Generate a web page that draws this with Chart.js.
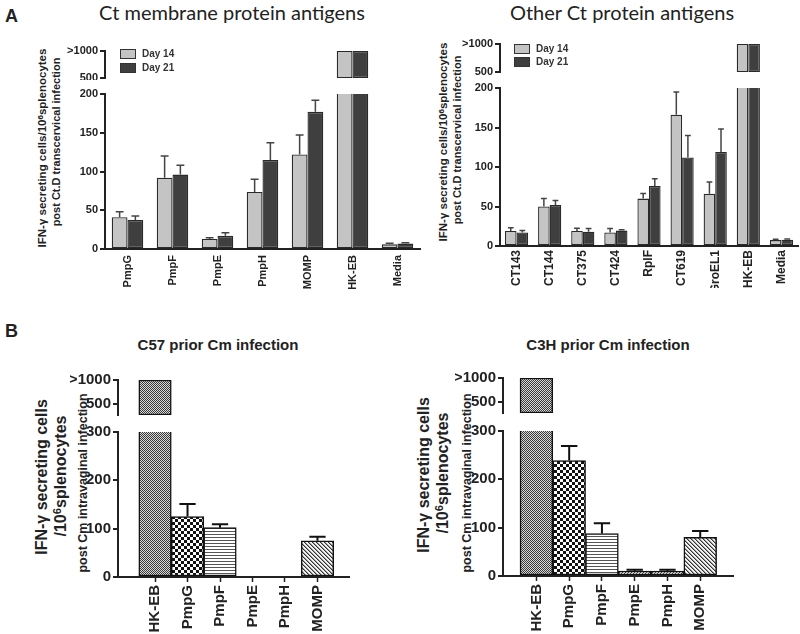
<!DOCTYPE html>
<html><head><meta charset="utf-8">
<script src="https://cdn.jsdelivr.net/npm/chart.js@4.4.1/dist/chart.umd.min.js"></script>
<style>
html,body{margin:0;padding:0;background:#fff}
body{width:800px;height:634px;position:relative;overflow:hidden;font-family:'Liberation Sans',Arial,sans-serif;color:#222}
canvas{position:absolute}
.t{position:absolute;white-space:nowrap;line-height:1}
.c{transform:translateX(-50%)}
.v{position:absolute;white-space:nowrap;font-weight:bold;line-height:1;transform:translate(-50%,-50%) rotate(-90deg);color:#222}
sup{font-size:0.7em;line-height:0;vertical-align:0.45em}
.lg{position:absolute;font-weight:bold;font-size:10px;color:#333;line-height:1;white-space:nowrap}
.sw{position:absolute;box-sizing:border-box;width:16px;height:10px;border:1px solid #333}
</style></head><body>
<div class="t" style="left:5px;top:7px;font-size:18px;font-weight:bold">A</div>
<div class="t c" style="left:232px;top:2px;font-family:Lato;font-size:20px">Ct membrane protein antigens</div>
<div class="t c" style="left:622px;top:2px;font-family:Lato;font-size:20px">Other Ct protein antigens</div>
<div class="t" style="left:5px;top:322px;font-size:18px;font-weight:bold">B</div>
<div class="t c" style="left:218px;top:337px;font-size:15px;font-weight:bold">C57 prior Cm infection</div>
<div class="t c" style="left:608px;top:337px;font-size:15px;font-weight:bold">C3H prior Cm infection</div>

<div class="v" style="left:43px;top:148px;font-size:11.5px">IFN-γ secreting cells/10<sup>6</sup>splenocytes</div>
<div class="v" style="left:56px;top:142px;font-size:11px">post Ct.D transcervical infection</div>
<div class="v" style="left:444px;top:142px;font-size:11.5px">IFN-γ secreting cells/10<sup>6</sup>splenocytes</div>
<div class="v" style="left:457px;top:140px;font-size:11px">post Ct.D transcervical infection</div>

<div class="v" style="left:42px;top:477px;font-size:16px">IFN-γ secreting cells</div>
<div class="v" style="left:61px;top:476px;font-size:16px">/10<sup>6</sup>splenocytes</div>
<div class="v" style="left:83px;top:483px;font-size:12.5px">post Cm intravaginal infection</div>
<div class="v" style="left:424px;top:475px;font-size:16px">IFN-γ secreting cells</div>
<div class="v" style="left:443px;top:473px;font-size:16px">/10<sup>6</sup>splenocytes</div>
<div class="v" style="left:467px;top:483px;font-size:12.5px">post Cm intravaginal infection</div>

<script>
// ---------------- DATA ----------------
const seriesNames = ['Day 14', 'Day 21'];
const OVER = 1000;               // bars drawn as ">1000"

const catsA1 = ['PmpG', 'PmpF', 'PmpE', 'PmpH', 'MOMP', 'HK-EB', 'Media'];
const day14A1 = [41, 92, 13, 73.5, 122, 1000, 6];
const day14A1Err = [7, 28, 1.5, 16.5, 25, 0, 1.5];
const day21A1 = [37.5, 96, 17, 115, 177, 1000, 7];
const day21A1Err = [5, 12, 4, 22, 15, 0, 1];

const catsA2 = ['CT143', 'CT144', 'CT375', 'CT424', 'RplF', 'CT619', 'GroEL1', 'HK-EB', 'Media'];
const day14A2 = [19, 50, 19, 17, 60, 166, 66, 1000, 7.5];
const day14A2Err = [4, 10, 3.5, 5, 6.5, 29, 15, 0, 1];
const day21A2 = [17, 52, 18, 19.5, 76, 112, 119, 1000, 8];
const day21A2Err = [2.5, 5.5, 4, 1, 9, 28, 29, 0, 1];

const catsB = ['HK-EB', 'PmpG', 'PmpF', 'PmpE', 'PmpH', 'MOMP'];
const c57Vals = [1000, 125, 102, 0, 0, 75];
const c57Err = [0, 26, 7, 0, 0, 8.5];
const c3hVals = [1000, 239, 88, 10, 10, 80];
const c3hErr = [0, 30, 21, 3, 3, 13];

const ticksA = [0, 50, 100, 150, 200];
const ticksB = [0, 100, 200, 300];
const breakTicks = [500, 1000];
const breakTickLabels = ['500', '>1000'];

// ---------------- STYLE ----------------
const FONT = "Liberation Sans, Arial, sans-serif";
const LIGHT = '#c4c4c4', DARK = '#3f3f3f', EDGE = '#2a2a2a', AX = '#222';

function tile(w, h, draw) {
  const c = document.createElement('canvas'); c.width = w; c.height = h;
  const g = c.getContext('2d'); draw(g);
  return g.createPattern(c, 'repeat');
}
const px = (g, col, pts) => { g.fillStyle = col; pts.forEach(p => g.fillRect(p[0], p[1], 1, 1)); };
const patHK = tile(2, 2, g => { g.fillStyle = '#d8d8d8'; g.fillRect(0,0,2,2); px(g, '#3a3a3a', [[0,0],[1,1]]); });
const patChk = tile(6, 6, g => { g.fillStyle = '#fff'; g.fillRect(0,0,6,6); g.fillStyle = '#111'; g.fillRect(0,0,3,3); g.fillRect(3,3,3,3); });
const patHor = tile(4, 3, g => { g.fillStyle = '#fff'; g.fillRect(0,0,4,3); g.fillStyle = '#555'; g.fillRect(0,0,4,1); });
const patDiagS = tile(3, 3, g => { g.fillStyle = '#eee'; g.fillRect(0,0,3,3); px(g, '#444', [[2,0],[1,1],[0,2]]); });
const patDiag = tile(4, 4, g => { g.fillStyle = '#f2f2f2'; g.fillRect(0,0,4,4); px(g, '#333', [[0,0],[1,1],[2,2],[3,3]]); px(g, '#999', [[1,0],[2,1],[3,2],[0,3]]); });
const patternsB = [patHK, patChk, patHor, patDiagS, patDiagS, patDiag];

// ---------------- PLUGINS ----------------
const errPlugin = {
  id: 'err',
  afterDatasetsDraw(chart, args, opts) {
    const ctx = chart.ctx, ys = chart.scales.y;
    chart.data.datasets.forEach((ds, di) => {
      if (!ds.errors) return;
      const meta = chart.getDatasetMeta(di);
      meta.data.forEach((bar, i) => {
        const e = ds.errors[i], v = ds.vals[i];
        if (!e || v >= OVER) return;
        const yTop = ys.getPixelForValue(v + e);
        const cap = bar.width * 0.25;
        ctx.save();
        ctx.strokeStyle = opts.color; ctx.lineWidth = opts.width;
        ctx.beginPath();
        ctx.moveTo(bar.x, bar.y); ctx.lineTo(bar.x, yTop);
        ctx.moveTo(bar.x - cap, yTop); ctx.lineTo(bar.x + cap, yTop);
        ctx.stroke(); ctx.restore();
      });
    });
  }
};

// ---------------- BUILDERS ----------------
function yAxis(min, max, ticks, labels, yW, size) {
  return {
    type: 'linear', min, max,
    afterBuildTicks: s => { s.ticks = ticks.map(v => ({ value: v })); },
    afterFit: s => { s.width = yW; s.paddingTop = 0; s.paddingBottom = 0; },
    ticks: { callback: v => labels ? labels[ticks.indexOf(v)] : String(v),
      font: { family: FONT, size, weight: 'bold' }, color: AX, padding: 2 },
    grid: { display: true, drawOnChartArea: false, drawTicks: true, tickLength: 5, tickWidth: 2, color: AX, lineWidth: 2 },
    border: { display: true, color: AX, width: 2 }
  };
}
function xCat(labels, show, xH, size, pad) {
  return { type: 'category', labels, offset: true, display: show,
    afterFit: s => { if (show) s.height = xH; s.paddingLeft = 0; s.paddingRight = 0; },
    ticks: { minRotation: 90, maxRotation: 90, autoSkip: false, font: { family: FONT, size, weight: 'bold' }, color: AX, padding: pad },
    grid: { display: false, drawTicks: false, tickLength: 0 }, border: { display: true, color: AX, width: 2 } };
}
function xLin(labels, min, max, show, xH, size) {
  const idx = labels.map((_, i) => i);
  return { type: 'linear', min, max, offset: false, display: show,
    afterBuildTicks: s => { s.ticks = idx.map(v => ({ value: v })); },
    afterFit: s => { if (show) s.height = xH; s.paddingLeft = 0; s.paddingRight = 0; },
    ticks: { callback: v => labels[v], minRotation: 90, maxRotation: 90, autoSkip: false,
      font: { family: FONT, size, weight: 'bold' }, color: AX, padding: 3 },
    grid: { display: true, offset: false, drawOnChartArea: false, drawTicks: true, tickLength: 5, tickWidth: 1.5, color: AX },
    border: { display: true, color: AX, width: 2 } };
}
function chartAt(rect, plot, yW, xH, xCfg, yCfg, datasets, errOpts) {
  const cv = document.createElement('canvas');
  cv.width = rect.w; cv.height = rect.h;
  cv.style.left = rect.l + 'px'; cv.style.top = rect.t + 'px';
  document.body.appendChild(cv);
  return new Chart(cv, {
    type: 'bar',
    data: { datasets },
    options: {
      responsive: false, animation: false, events: [],
      layout: { padding: { left: plot.x0 - rect.l - yW, top: plot.y0 - rect.t,
        right: rect.l + rect.w - plot.x1, bottom: rect.t + rect.h - plot.y1 - xH } },
      plugins: { legend: { display: false }, tooltip: { enabled: false }, err: errOpts },
      scales: { x: xCfg, y: yCfg }
    },
    plugins: [errPlugin]
  });
}
function pairSets(v14, e14, v21, e21, upper, upMin) {
  const mk = (vals, errs, col) => ({
    data: upper ? vals.map(v => v >= 500 ? [upMin, v] : null) : vals,
    vals, errors: upper ? null : errs,
    backgroundColor: col, borderColor: EDGE, borderWidth: 1.3, borderSkipped: false,
    categoryPercentage: 0.7, barPercentage: 1, clip: 0
  });
  return [mk(v14, e14, LIGHT), mk(v21, e21, DARK)];
}
function patSet(vals, errs, upper, upMin) {
  return [{
    data: vals.map((v, i) => ({ x: i, y: upper ? (v >= 500 ? [upMin, v] : null) : v })),
    vals, errors: upper ? null : errs,
    backgroundColor: patternsB, borderColor: '#111', borderWidth: 1.5, borderSkipped: false,
    categoryPercentage: 1, barPercentage: 1, clip: 0
  }];
}
function legend(x, ys) {
  [LIGHT, DARK].forEach((col, i) => {
    const s = document.createElement('div'); s.className = 'sw';
    s.style.left = x + 'px'; s.style.top = ys[i] + 'px'; s.style.background = col;
    document.body.appendChild(s);
    const t = document.createElement('div'); t.className = 'lg'; t.textContent = seriesNames[i];
    t.style.left = (x + 22) + 'px'; t.style.top = (ys[i]) + 'px';
    document.body.appendChild(t);
  });
}

// ---------------- PANEL A (left) ----------------
const eA = { color: '#444', width: 1.5 };
chartAt({ l: 60, t: 40, w: 362, h: 40 }, { x0: 105, x1: 420, y0: 51, y1: 78 }, 45, 0,
  xCat(catsA1, false, 0, 11, 6), yAxis(500, 1000, breakTicks, breakTickLabels, 45, 11),
  pairSets(day14A1, day14A1Err, day21A1, day21A1Err, true, 500), eA);
chartAt({ l: 60, t: 84, w: 362, h: 220 }, { x0: 105, x1: 420, y0: 94, y1: 249 }, 45, 45,
  xCat(catsA1, true, 45, 11, 6), yAxis(0, 200, ticksA, null, 45, 11),
  pairSets(day14A1, day14A1Err, day21A1, day21A1Err, false), eA);
legend(120, [49, 63]);

// ---------------- PANEL A (right) ----------------
chartAt({ l: 460, t: 33, w: 340, h: 42 }, { x0: 500, x1: 798, y0: 44, y1: 72 }, 40, 0,
  xCat(catsA2, false, 0, 12, 4), yAxis(500, 1000, breakTicks, breakTickLabels, 40, 11),
  pairSets(day14A2, day14A2Err, day21A2, day21A2Err, true, 500), eA);
chartAt({ l: 460, t: 78, w: 340, h: 225 }, { x0: 500, x1: 798, y0: 88, y1: 246 }, 40, 42,
  xCat(catsA2, true, 42, 12, 4), yAxis(0, 200, ticksA, null, 40, 11),
  pairSets(day14A2, day14A2Err, day21A2, day21A2Err, false), eA);
legend(514, [44, 57]);

// ---------------- PANEL B ----------------
const eB = { color: '#111', width: 2 };
const UPB = 270;
chartAt({ l: 70, t: 368, w: 290, h: 50 }, { x0: 118, x1: 349, y0: 380, y1: 415 }, 48, 0,
  xLin(catsB, -1.14, 5.97, false, 0, 15), yAxis(UPB, 1000, breakTicks, breakTickLabels, 48, 15),
  patSet(c57Vals, c57Err, true, UPB), eB);
chartAt({ l: 70, t: 420, w: 290, h: 214 }, { x0: 118, x1: 349, y0: 432, y1: 577 }, 48, 55,
  xLin(catsB, -1.14, 5.97, true, 55, 15), yAxis(0, 300, ticksB, null, 48, 15),
  patSet(c57Vals, c57Err, false), eB);
chartAt({ l: 455, t: 366, w: 290, h: 50 }, { x0: 503, x1: 733, y0: 378, y1: 413 }, 48, 0,
  xLin(catsB, -1.02, 6.0, false, 0, 15), yAxis(UPB, 1000, breakTicks, breakTickLabels, 48, 15),
  patSet(c3hVals, c3hErr, true, UPB), eB);
chartAt({ l: 455, t: 419, w: 290, h: 215 }, { x0: 503, x1: 733, y0: 431, y1: 576 }, 48, 56,
  xLin(catsB, -1.02, 6.0, true, 56, 15), yAxis(0, 300, ticksB, null, 48, 15),
  patSet(c3hVals, c3hErr, false), eB);
</script>
</body></html>
